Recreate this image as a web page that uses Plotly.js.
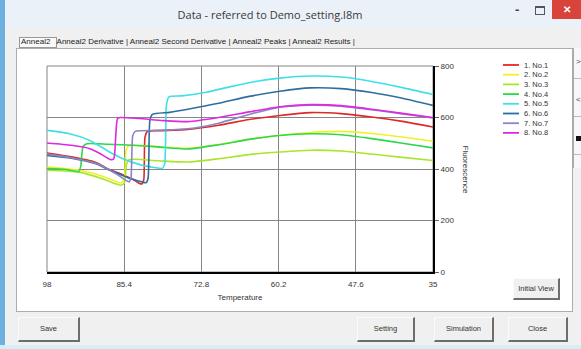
<!DOCTYPE html>
<html><head><meta charset="utf-8">
<script src="https://cdn.plot.ly/plotly-3.0.1.min.js"></script>
<style>
html,body{margin:0;padding:0;width:581px;height:349px;overflow:hidden;background:#f0f0f0;font-family:"Liberation Sans",Arial,sans-serif;}
.abs{position:absolute;}
#titlebar{left:0;top:0;width:581px;height:28px;background:#eaf1f8;}
#title{left:0;width:540px;top:7px;text-align:center;font-size:11px;font-family:"Open Sans";color:#3a3a3a;}
#leftedge{left:0;top:0;width:5px;height:349px;background:#6cb0e0;}
#bottomedge{left:0;top:345px;width:581px;height:4px;background:#d6eef8;}
#minb{left:515px;top:2px;font-size:13px;font-weight:bold;color:#444;}
#maxb{left:535px;top:6px;width:8px;height:6px;border:1px solid #555;border-top-width:2px;}
#close{left:552px;top:0;width:29px;height:19px;background:#d9443a;color:#fff;font-size:10px;font-weight:bold;text-align:center;line-height:19px;}
#panel{left:16px;top:48px;width:555px;height:262px;background:#fff;border:1px solid #adadad;}
#tabs{left:21px;top:37px;font-size:8px;color:#222;white-space:pre;}
#seltab{left:19px;top:37px;width:38px;height:11px;border:1px solid #999;background:#fafafa;box-sizing:border-box;}
.btn{position:absolute;background:#f0f0f0;border-style:solid;border-width:1px 2px 2px 1px;border-color:#fbfbfb #6d6d6d #6d6d6d #fbfbfb;font-size:7.5px;color:#333;text-align:center;box-sizing:border-box;}
#side{left:573px;top:48px;width:8px;height:120px;border-left:1px solid #aaa;background:#f7f7f7;font-size:8px;color:#444;}
</style></head>
<body>
<div id="titlebar" class="abs"></div>
<div id="title" class="abs">Data - referred to Demo_setting.l8m</div>
<div id="minb" class="abs">-</div>
<div id="maxb" class="abs"></div>
<div id="close" class="abs">✕</div>
<div id="leftedge" class="abs"></div>
<div id="panel" class="abs"></div>
<div id="seltab" class="abs"></div>
<div id="tabs" class="abs">Anneal2   Anneal2 Derivative | Anneal2 Second Derivative | Anneal2 Peaks | Anneal2 Results |</div>
<div id="side" class="abs"><div style="position:absolute;left:2px;top:9px">&gt;</div><div style="position:absolute;left:0;top:30px;width:8px;border-top:1px solid #bbb"></div><div style="position:absolute;left:2px;top:47px">&lt;</div><div style="position:absolute;left:0;top:68px;width:8px;border-top:1px solid #bbb"></div><div style="position:absolute;left:2px;top:88px;width:5px;height:5px;background:#111"></div><div style="position:absolute;left:0;top:106px;width:8px;border-top:1px solid #bbb"></div></div>
<div class="btn" style="left:513px;top:278px;width:47px;height:22px;line-height:20px;">Initial View</div>
<div class="btn" style="left:18px;top:317px;width:62px;height:25px;line-height:22px;">Save</div>
<div class="btn" style="left:357px;top:317px;width:58px;height:25px;line-height:22px;">Setting</div>
<div class="btn" style="left:434px;top:317px;width:60px;height:25px;line-height:22px;">Simulation</div>
<div class="btn" style="left:508px;top:317px;width:60px;height:25px;line-height:22px;">Close</div>
<div id="bottomedge" class="abs"></div>
<div id="chart" class="abs" style="left:0;top:0;width:581px;height:349px;"></div>
<script>
// ---- data ----
const seriesNames = ['1. No.1','2. No.2','3. No.3','4. No.4','5. No.5','6. No.6','7. No.7','8. No.8'];
const seriesColors = ['#e02828','#f0f02a','#a8e62a','#2ed84a','#3ee0e6','#2e6e9e','#8a86c4','#e028e0'];

const t1 = [98, 94, 90, 88, 86, 84, 83, 82.5, 82.2, 82.0, 81.6, 79, 75, 70, 65, 60, 55, 50, 45, 40, 35];
const f1 = [462, 447, 425, 400, 382, 360, 345, 342, 360, 525, 546, 549, 554, 570, 592, 608, 619, 615, 602, 585, 563];

const t2 = [98, 95, 92, 89, 87, 85.9, 85.4, 85.1, 84.7, 80, 75, 70, 65, 60, 55, 50, 45, 40, 35];
const f2 = [408, 402, 392, 372, 354, 346, 360, 470, 490, 487, 480, 495, 515, 531, 542, 546, 538, 524, 508];

const t3 = [98, 95, 92, 89, 87, 86, 85.4, 85.0, 84.6, 80, 75, 70, 65, 60, 55, 50, 45, 40, 35];
const f3 = [395, 392, 384, 362, 344, 337, 345, 420, 436, 432, 427, 440, 456, 466, 473, 470, 458, 445, 433];

const t4 = [98, 95, 93.5, 92.8, 92.5, 92.1, 91.5, 88, 84, 80, 75, 70, 65, 60, 55, 50, 45, 40, 35];
const f4 = [402, 398, 392, 390, 410, 488, 498, 496, 492, 486, 478, 494, 515, 530, 537, 533, 518, 500, 482];

const t5 = [98, 94.3, 91, 87.8, 85.6, 83, 80.5, 79.2, 78.8, 78.5, 78.1, 76, 72, 68, 64, 60, 55, 50, 45, 40, 35];
const f5 = [550, 537, 511, 466, 440, 418, 406, 402, 420, 650, 680, 684, 698, 720, 740, 753, 761, 757, 740, 716, 689];

const t6 = [98, 94, 90, 88, 86, 84, 82.5, 81.8, 81.5, 81.2, 80.8, 78, 75, 70, 65, 60, 55, 50, 45, 40, 35];
const f6 = [453, 442, 420, 398, 378, 360, 350, 347, 365, 590, 612, 620, 632, 655, 682, 702, 715, 712, 697, 675, 647];

const t7 = [98, 94, 90, 88, 86.5, 85.2, 84.6, 84.3, 84.0, 83.6, 80, 75, 70, 65, 60, 55, 50, 45, 40, 35];
const f7 = [458, 444, 422, 398, 378, 357, 350, 365, 530, 546, 550, 556, 578, 612, 640, 648, 644, 630, 614, 598];

const t8 = [98, 94, 91, 89.5, 88.3, 87.6, 87.1, 86.8, 86.5, 86.1, 83, 79, 75, 70, 65, 60, 55, 50, 45, 40, 35];
const f8 = [501, 492, 479, 462, 445, 436, 440, 520, 595, 600, 596, 588, 584, 600, 622, 642, 650, 646, 632, 616, 600];

const xTickVals = [98, 85.4, 72.8, 60.2, 47.6, 35];
const xTickText = ['98', '85.4', '72.8', '60.2', '47.6', '35'];
const yTickVals = [0, 200, 400, 600, 800];
const xTitle = 'Temperature';
const yTitle = 'Fluorescence';

// ---- chart ----
const temps = [t1, t2, t3, t4, t5, t6, t7, t8];
const fluor = [f1, f2, f3, f4, f5, f6, f7, f8];
const FONT = 'Liberation Sans, Arial, sans-serif';

const traces = seriesNames.map((n, i) => ({
  type: 'scatter', mode: 'lines', name: n,
  x: temps[i], y: fluor[i],
  line: {color: seriesColors[i], width: 1.6, shape: 'spline', smoothing: 0.6},
  hoverinfo: 'skip'
}));

// manual compact legend
const W = 581, H = 349, mL = 47, mR = 148, mT = 66, mB = 77;
const pw = W - mL - mR, ph = H - mT - mB;
const px = v => (v - mL) / pw;
const py = v => (H - mB - v) / ph;
const shapes = [
  {type: 'rect', xref: 'paper', yref: 'paper', x0: 0, x1: 1, y0: 0, y1: 1,
   line: {color: '#858585', width: 1}, layer: 'below'}
];
const annotations = [
  {xref: 'paper', yref: 'paper', x: px(472), y: py(170), text: yTitle, textangle: 90,
   showarrow: false, font: {family: FONT, size: 8, color: '#333'}}
];
seriesNames.forEach((n, i) => {
  const yy = 65 + i * 9.7;
  shapes.push({type: 'line', xref: 'paper', yref: 'paper', x0: px(503), x1: px(519),
    y0: py(yy), y1: py(yy), line: {color: seriesColors[i], width: 1.8}});
  annotations.push({xref: 'paper', yref: 'paper', x: px(522), y: py(yy), xanchor: 'left',
    yanchor: 'middle', text: n, showarrow: false, font: {family: FONT, size: 7.5, color: '#333'}});
});

const layout = {
  width: W, height: H,
  margin: {l: mL, r: mR, t: mT, b: mB, pad: 0},
  paper_bgcolor: 'rgba(0,0,0,0)', plot_bgcolor: 'rgba(0,0,0,0)',
  showlegend: false,
  xaxis: {
    range: [98, 35], tickmode: 'array', tickvals: xTickVals, ticktext: xTickText,
    showgrid: true, gridcolor: '#858585', gridwidth: 1, zeroline: false,
    showline: true, linecolor: '#000', linewidth: 2,
    ticks: 'outside', ticklen: 3, tickcolor: 'rgba(0,0,0,0)',
    tickfont: {family: FONT, size: 8, color: '#333'},
    title: {text: xTitle, font: {family: FONT, size: 8, color: '#333'}, standoff: 7}
  },
  yaxis: {
    range: [0, 800], side: 'right', tickmode: 'array', tickvals: yTickVals,
    showgrid: true, gridcolor: '#858585', gridwidth: 1, zeroline: false,
    showline: true, linecolor: '#000', linewidth: 2,
    ticks: 'outside', ticklen: 4, tickcolor: '#666',
    tickfont: {family: FONT, size: 8, color: '#333'}
  },
  shapes: shapes,
  annotations: annotations
};
Plotly.newPlot('chart', traces, layout, {displayModeBar: false, staticPlot: true});
</script>
</body></html>
